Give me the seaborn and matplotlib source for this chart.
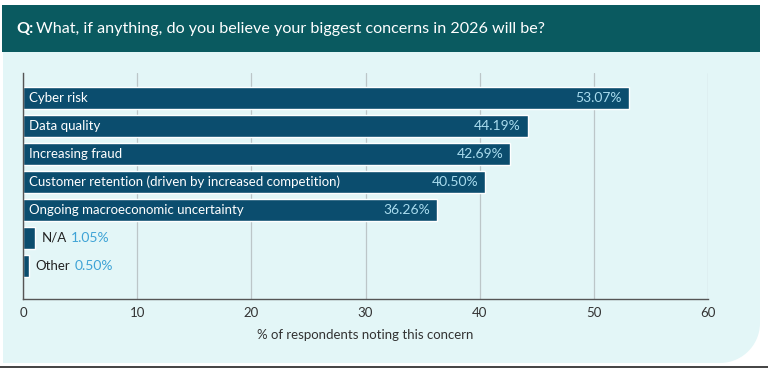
import numpy as np
import pandas as pd
import matplotlib
matplotlib.use('Agg')
import matplotlib.pyplot as plt
import seaborn as sns
from matplotlib.patches import Rectangle, Polygon

categories = ['Cyber risk', 'Data quality', 'Increasing fraud',
              'Customer retention (driven by increased competition)',
              'Ongoing macroeconomic uncertainty', 'N/A', 'Other']
values = [53.07, 44.19, 42.69, 40.50, 36.26, 1.05, 0.50]
x_ticks = [0, 10, 20, 30, 40, 50, 60]

BAR = '#0b4d6e'
HEADER = '#0a5a60'
PANEL = '#e3f6f7'

sns.set_style('white')
plt.rcParams['font.family'] = ['Lato', 'DejaVu Sans']

df = pd.DataFrame({'concern': categories, 'pct': values})

W, H = 768, 369
fig = plt.figure(figsize=(W / 100, H / 100), dpi=100)
fig.patch.set_facecolor('white')

# panel with rounded bottom-right corner (pixel coords -> figure fraction)
def px(x, y):
    return (x / W, 1 - y / H)

r = 40
corner = [(760 - r + r * np.sin(t), 363 - r + r * np.cos(t)) for t in np.linspace(0, np.pi / 2, 20)]
pts = [px(3, 52), px(760, 52)] + [px(x, y) for x, y in corner[::-1]] + [px(3, 363)]
fig.patches.append(Polygon(pts, closed=True, transform=fig.transFigure,
                           facecolor=PANEL, edgecolor='none', zorder=-2))
# header band
x0, y0 = px(2, 52)
fig.patches.append(Rectangle((x0, y0), 758 / W, 47 / H, transform=fig.transFigure,
                             facecolor=HEADER, edgecolor='none', zorder=-1))
# bottom rule
fig.add_artist(plt.Line2D([0, 1], [1 - 367 / H] * 2, transform=fig.transFigure,
                          color='#222222', lw=1.2))

fig.text(16 / W, 1 - 29 / H, 'Q:', color='white', fontsize=11.6, fontweight='bold', va='center')
fig.text(36 / W, 1 - 29 / H, 'What, if anything, do you believe your biggest concerns in 2026 will be?',
         color='white', fontsize=11.6, va='center')

ax = fig.add_axes([23 / W, 1 - 299 / H, (708 - 23) / W, (299 - 73) / H])
ax.set_facecolor('none')
ax.set_axisbelow(True)

sns.barplot(data=df, y='concern', x='pct', orient='h', color=BAR, saturation=1,
            width=0.8, ax=ax, zorder=3)

ax.set_xlim(0, 60)
ax.set_ylim(7.18, -0.89)
ax.set_xticks(x_ticks)
ax.set_xticklabels([str(t) for t in x_ticks], fontsize=9.5, color='#333333')
ax.tick_params(axis='x', length=0, pad=6)
ax.set_yticks([])
ax.set_ylabel('')
ax.set_xlabel('% of respondents noting this concern', fontsize=9.5, color='#333333', labelpad=7)
ax.grid(axis='x', color='#bcc6c8', lw=0.9)
for s in ['top', 'right']:
    ax.spines[s].set_visible(False)
for s in ['left', 'bottom']:
    ax.spines[s].set_color('#555555')
    ax.spines[s].set_linewidth(1.0)
    ax.spines[s].set_zorder(4)

for i, (cat, v) in enumerate(zip(categories, values)):
    if v > 5:
        ax.text(0.5, i, cat, color='white', fontsize=9.5, va='center', ha='left', zorder=5)
        ax.annotate(f'{v:.2f}%', xy=(v, i), xytext=(-5, 0), textcoords='offset points',
                    color='#a9dcee', fontsize=10, va='center', ha='right', zorder=5)
    else:
        t = ax.annotate(cat, xy=(v, i), xytext=(5, 0), textcoords='offset points',
                        color='#222222', fontsize=9.5, va='center', ha='left', zorder=5)
        ax.annotate(f'{v:.2f}%', xy=(1, 0.5), xycoords=t, xytext=(3, 0), textcoords='offset points',
                    color='#3ea3d6', fontsize=10, va='center', ha='left', zorder=5)

fig.savefig('out.png', dpi=100)
